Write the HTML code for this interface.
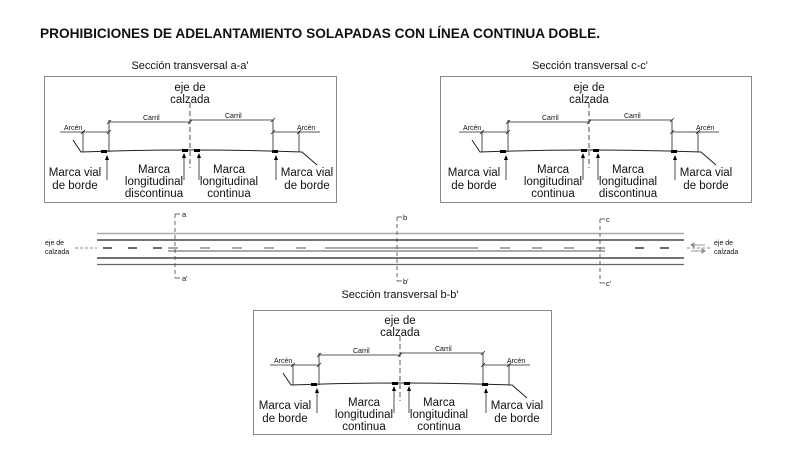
<!DOCTYPE html>
<html><head><meta charset="utf-8"><style>
html,body{margin:0;padding:0;background:#fff}
svg{display:block}
text{font-family:"Liberation Sans",Arial,sans-serif;fill:#111}
</style></head><body>
<svg width="797" height="455" viewBox="0 0 797 455" xmlns="http://www.w3.org/2000/svg">
<defs>
<g id="sec">
  <path d="M73,140 L81,152 Q190,148 302,152 L317,165" fill="none" stroke="#222" stroke-width="1"/>
  <rect x="101" y="150" width="6" height="3" fill="#000"/>
  <rect x="182" y="149" width="6" height="3" fill="#000"/>
  <rect x="194" y="149" width="6" height="3" fill="#000"/>
  <rect x="272" y="150" width="6" height="3" fill="#000"/>
  <g stroke="#222" stroke-width="0.8" fill="none">
    <line x1="83" y1="131" x2="83" y2="152"/>
    <line x1="109" y1="120" x2="109" y2="152"/>
    <line x1="273" y1="120" x2="273" y2="152"/>
    <line x1="299" y1="131" x2="299" y2="152"/>
    <line x1="190" y1="103" x2="190" y2="168" stroke-dasharray="5,3"/>
    <line x1="60" y1="132" x2="109" y2="132"/>
    <line x1="273" y1="132" x2="320" y2="132"/>
    <line x1="109" y1="122" x2="190" y2="122"/>
    <line x1="190" y1="120" x2="273" y2="120"/>
    <line x1="81" y1="134" x2="85" y2="130"/>
    <line x1="107" y1="134" x2="111" y2="130"/>
    <line x1="107" y1="124" x2="111" y2="120"/>
    <line x1="188" y1="124" x2="192" y2="120"/>
    <line x1="271" y1="122" x2="275" y2="118"/>
    <line x1="271" y1="134" x2="275" y2="130"/>
    <line x1="297" y1="134" x2="301" y2="130"/>
    <line x1="107" y1="158" x2="107" y2="180"/>
    <line x1="184" y1="156" x2="184" y2="180"/>
    <line x1="199" y1="156" x2="199" y2="180"/>
    <line x1="276" y1="158" x2="276" y2="180"/>
  </g>
  <g fill="#000">
    <path d="M107,155 l-2,5 h4z"/><path d="M184,153 l-2,5 h4z"/>
    <path d="M199,153 l-2,5 h4z"/><path d="M276,155 l-2,5 h4z"/>
  </g>
  <text x="64" y="130" font-size="7">Arcén</text>
  <text x="297" y="130" font-size="7">Arcén</text>
  <text x="143" y="120" font-size="7">Carril</text>
  <text x="225" y="118" font-size="7">Carril</text>
  <text x="190" y="91" font-size="11.5" text-anchor="middle">eje de</text>
  <text x="190" y="103" font-size="11.5" text-anchor="middle">calzada</text>
  <text x="75" y="176" font-size="11.5" text-anchor="middle">Marca vial</text>
  <text x="75" y="189" font-size="11.5" text-anchor="middle">de borde</text>
  <text x="307" y="176" font-size="11.5" text-anchor="middle">Marca vial</text>
  <text x="307" y="189" font-size="11.5" text-anchor="middle">de borde</text>
  <text x="154" y="173" font-size="11.5" text-anchor="middle">Marca</text>
  <text x="154" y="185" font-size="11.5" text-anchor="middle">longitudinal</text>
  <text x="229" y="173" font-size="11.5" text-anchor="middle">Marca</text>
  <text x="229" y="185" font-size="11.5" text-anchor="middle">longitudinal</text>
</g>
</defs>

<text x="40" y="38" font-size="14" font-weight="bold" fill="#000" textLength="560" lengthAdjust="spacingAndGlyphs">PROHIBICIONES DE ADELANTAMIENTO SOLAPADAS CON LÍNEA CONTINUA DOBLE.</text>

<text x="190" y="69" font-size="11" text-anchor="middle">Sección transversal a-a'</text>
<rect x="44.5" y="76.5" width="292" height="126" fill="none" stroke="#888" stroke-width="1"/>
<use href="#sec"/>
<text x="154" y="197" font-size="11.5" text-anchor="middle">discontinua</text>
<text x="229" y="197" font-size="11.5" text-anchor="middle">continua</text>

<text x="590" y="69" font-size="11" text-anchor="middle">Sección transversal c-c'</text>
<rect x="440.5" y="76.5" width="311" height="126" fill="none" stroke="#888" stroke-width="1"/>
<g transform="translate(399,0)"><use href="#sec"/>
<text x="154" y="197" font-size="11.5" text-anchor="middle">continua</text>
<text x="229" y="197" font-size="11.5" text-anchor="middle">discontinua</text></g>

<text x="400" y="298" font-size="11" text-anchor="middle">Sección transversal b-b'</text>
<rect x="253.5" y="310.5" width="298" height="124" fill="none" stroke="#888" stroke-width="1"/>
<g transform="translate(210,233)"><use href="#sec"/>
<text x="154" y="197" font-size="11.5" text-anchor="middle">continua</text>
<text x="229" y="197" font-size="11.5" text-anchor="middle">continua</text></g>

<g stroke-width="1.2" fill="none">
  <line x1="97" y1="233.5" x2="684" y2="233.5" stroke="#aaa" stroke-width="1.5"/>
  <line x1="97" y1="240" x2="684" y2="240" stroke="#222"/>
  <line x1="97" y1="258" x2="684" y2="258" stroke="#222"/>
  <line x1="97" y1="264.5" x2="684" y2="264.5" stroke="#666"/>
  <line x1="103" y1="248" x2="170" y2="248" stroke="#111" stroke-dasharray="9,16"/>
  <line x1="168" y1="248" x2="325" y2="248" stroke="#777" stroke-dasharray="10,22"/>
  <line x1="325" y1="248" x2="478" y2="248" stroke="#777"/>
  <line x1="500" y1="248" x2="605" y2="248" stroke="#777" stroke-dasharray="10,22"/>
  <line x1="168" y1="251" x2="605" y2="251" stroke="#777"/>
  <line x1="635" y1="248" x2="684" y2="248" stroke="#111" stroke-dasharray="9,16"/>
  <line x1="75" y1="248" x2="97" y2="248" stroke="#666" stroke-width="0.7" stroke-dasharray="3,2"/>
  <line x1="687" y1="248" x2="712" y2="248" stroke="#666" stroke-width="0.7" stroke-dasharray="3,2"/>
  <g stroke="#444" stroke-width="0.8" stroke-dasharray="4,3">
    <line x1="175" y1="214" x2="175" y2="278"/>
    <line x1="397" y1="217" x2="397" y2="281"/>
    <line x1="600" y1="219" x2="600" y2="283"/>
  </g>
  <g stroke="#444" stroke-width="0.8">
    <path d="M175,214 h5"/><path d="M175,278 h5"/>
    <path d="M397,217 h5"/><path d="M397,281 h5"/>
    <path d="M600,219 h5"/><path d="M600,283 h5"/>
  </g>
</g>
<g font-size="7.5">
  <text x="182" y="217">a</text><text x="182" y="281">a'</text>
  <text x="403" y="220">b</text><text x="403" y="284">b'</text>
  <text x="606" y="222">c</text><text x="606" y="286">c'</text>
  <text x="45" y="245" font-size="7">eje de</text><text x="45" y="254" font-size="7">calzada</text>
  <text x="714" y="245" font-size="7">eje de</text><text x="714" y="254" font-size="7">calzada</text>
</g>
<g stroke="#777" stroke-width="0.8" fill="none">
  <path d="M691,245 h14 M691,245 l3,-2 v4z"/>
  <path d="M691,251 h14 M705,251 l-3,-2 v4z"/>
</g>
</svg>
</body></html>
